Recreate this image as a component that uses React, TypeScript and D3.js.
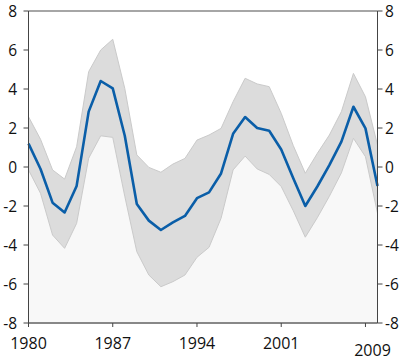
import React from "react";
import * as d3 from "d3";

const years = d3.range(1980, 2010);
const central = [1.2, -0.1, -1.83, -2.33, -0.97, 2.84, 4.41, 4.03, 1.6, -1.9, -2.75, -3.23, -2.84, -2.51, -1.6, -1.3, -0.33, 1.7, 2.56, 2.0, 1.86, 0.9, -0.58, -2.0, -1.0, 0.1, 1.3, 3.09, 1.98, -0.97];
const upper = [2.58, 1.42, -0.15, -0.62, 1.04, 4.89, 6.0, 6.55, 4.03, 0.62, -0.02, -0.27, 0.15, 0.44, 1.38, 1.64, 1.98, 3.35, 4.55, 4.26, 4.12, 2.75, 1.1, -0.32, 0.7, 1.64, 2.84, 4.8, 3.6, 1.13];
const lower = [-0.15, -1.35, -3.49, -4.17, -2.89, 0.45, 1.6, 1.52, -1.5, -4.34, -5.54, -6.14, -5.88, -5.54, -4.63, -4.12, -2.63, -0.15, 0.56, -0.1, -0.38, -1.0, -2.24, -3.6, -2.6, -1.5, -0.3, 1.47, 0.53, -2.37];
const yTicks = [-8, -6, -4, -2, 0, 2, 4, 6, 8];
const xTicks = [1980, 1987, 1994, 2001, 2008];
const xTickLabels = ["1980", "1987", "1994", "2001", ""];
const lastLabel = "2009";

export default function App() {
  const W = 405, H = 360;
  const left = 28.5, right = 377.5, top = 11, bottom = 323;
  const x = d3.scaleLinear().domain([1980, 2009]).range([left, right]);
  const y = d3.scaleLinear().domain([-8, 8]).range([bottom, top]);
  const band = d3.area<number>().x((_, i) => x(years[i])).y0((_, i) => y(lower[i])).y1((_, i) => y(upper[i]));
  const base = d3.area<number>().x((_, i) => x(years[i])).y0(() => y(-8)).y1((_, i) => y(lower[i]));
  const line = d3.line<number>().x((_, i) => x(years[i])).y((d) => y(d));
  const font = "'Open Sans', sans-serif";
  return (
    <svg width={W} height={H} style={{ position: "absolute", left: 0, top: 0 }}>
      <rect x={0} y={0} width={W} height={H} fill="#fff" />
      <path d={base(years) || ""} fill="#f8f8f8" />
      <path d={band(years) || ""} fill="#dcdcdc" stroke="#cacaca" strokeWidth={1} />
      <path d={line(central) || ""} fill="none" stroke="#0a5ea8" strokeWidth={2.6} strokeLinejoin="round" />
      <line x1={left} x2={right} y1={top} y2={top} stroke="#888" strokeWidth={1.6} />
      <line x1={left} x2={right} y1={bottom} y2={bottom} stroke="#888" strokeWidth={2} />
      <line x1={left} x2={left} y1={top} y2={bottom + 3} stroke="#444" strokeWidth={1} />
      <line x1={right} x2={right} y1={top} y2={bottom} stroke="#444" strokeWidth={1} />
      {yTicks.map((t) => (
        <g key={t}>
          <line x1={left - 5} x2={left} y1={y(t)} y2={y(t)} stroke="#444" strokeWidth={1} />
          <line x1={right} x2={right + 5} y1={y(t)} y2={y(t)} stroke="#444" strokeWidth={1} />
          <text x={17} y={y(t)} dy="0.36em" textAnchor="end" fontFamily={font} fontSize={15.5} fill="#111">{t}</text>
          <text x={385} y={y(t)} dy="0.36em" textAnchor="start" fontFamily={font} fontSize={15.5} fill="#111">{t}</text>
        </g>
      ))}
      {xTicks.map((t, i) => (
        <g key={t}>
          <line x1={x(t)} x2={x(t)} y1={bottom} y2={bottom + 4} stroke="#444" strokeWidth={1} />
          <text x={x(t)} y={348.5} textAnchor="middle" fontFamily={font} fontSize={16} fill="#111">{xTickLabels[i]}</text>
        </g>
      ))}
      <text x={x(2009) - 5} y={356} textAnchor="middle" fontFamily={font} fontSize={16} fill="#111">{lastLabel}</text>
    </svg>
  );
}
